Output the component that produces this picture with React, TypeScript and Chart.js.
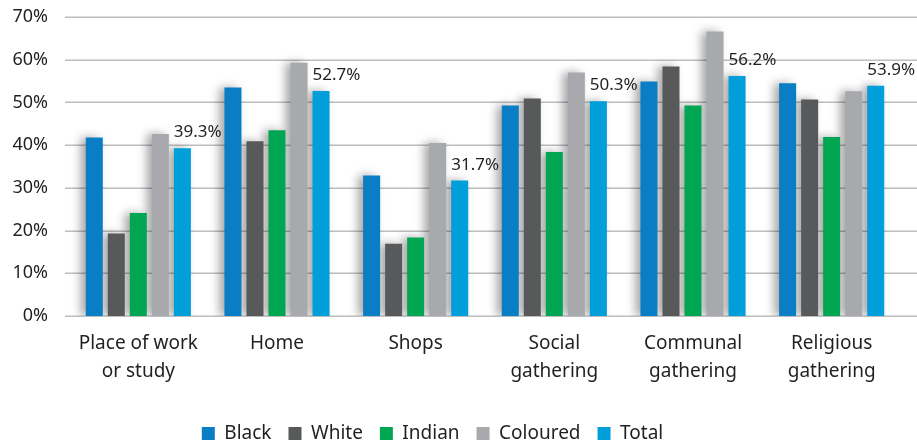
import React, { useEffect, useRef } from "react";
import { Chart, registerables } from "chart.js";

Chart.register(...registerables);

const categories: string[][] = [
  ["Place of work", "or study"],
  ["Home"],
  ["Shops"],
  ["Social", "gathering"],
  ["Communal", "gathering"],
  ["Religious", "gathering"],
];
const seriesNames = ["Black", "White", "Indian", "Coloured", "Total"];
const black = [41.8, 53.5, 32.9, 49.3, 54.9, 54.5];
const white = [19.3, 40.9, 16.9, 50.9, 58.4, 50.7];
const indian = [24.1, 43.5, 18.4, 38.4, 49.3, 41.9];
const coloured = [42.6, 59.3, 40.5, 57.0, 66.6, 52.6];
const total = [39.3, 52.7, 31.7, 50.3, 56.2, 53.9];
const yTicks = [0, 10, 20, 30, 40, 50, 60, 70];

const colors = ["#0A7EC4", "#58595B", "#00A651", "#A7A9AC", "#009FDA"];
const FONT = "'Noto Sans', sans-serif";
const TEXT = "#231F20";

export default function App() {
  const ref = useRef<HTMLCanvasElement | null>(null);

  useEffect(() => {
    document.body.style.margin = "0";
    const canvas = ref.current;
    if (!canvas) return;
    const values = [black, white, indian, coloured, total];

    const gridPlugin = {
      id: "fullGrid",
      afterLayout(chart: any) {
        const lg = chart.legend;
        if (lg) {
          lg.left -= 18;
          lg.right -= 18;
        }
      },
      beforeDatasetsDraw(chart: any) {
        const { ctx, chartArea, scales } = chart;
        const y = scales.y;
        ctx.save();
        ctx.strokeStyle = "#BDBEC0";
        ctx.lineWidth = 1.5;
        y.ticks.forEach((t: any) => {
          const py = Math.round(y.getPixelForValue(t.value)) + 0.25;
          ctx.beginPath();
          ctx.moveTo(chartArea.left - 4, py);
          ctx.lineTo(chart.width, py);
          ctx.stroke();
        });
        ctx.restore();
        ctx.save();
        ctx.shadowColor = "rgba(0,0,0,0.35)";
        ctx.shadowBlur = 10;
        ctx.shadowOffsetX = -5;
        ctx.shadowOffsetY = 0;
      },
      afterDatasetsDraw(chart: any) {
        const { ctx } = chart;
        ctx.restore();
        const idx = seriesNames.indexOf("Total");
        const meta = chart.getDatasetMeta(idx);
        ctx.save();
        ctx.fillStyle = TEXT;
        ctx.font = `17px ${FONT}`;
        ctx.textAlign = "left";
        ctx.textBaseline = "bottom";
        meta.data.forEach((el: any, i: number) => {
          const v = values[idx][i];
          ctx.fillText(v.toFixed(1) + "%", el.x - el.width / 2, el.y - 7);
        });
        ctx.restore();
      },
    };

    const chart = new Chart(canvas, {
      type: "bar",
      data: {
        labels: categories,
        datasets: seriesNames.map((name, i) => ({
          label: name,
          data: values[i],
          backgroundColor: colors[i],
          borderWidth: 0,
          categoryPercentage: 0.794,
          barPercentage: 0.773,
        })),
      },
      options: {
        animation: false,
        responsive: false,
        maintainAspectRatio: false,
        layout: { padding: { top: 17, right: 16, left: 0, bottom: -10 } },
        plugins: {
          legend: {
            position: "bottom",
            labels: {
              color: TEXT,
              font: { family: FONT, size: 19 },
              boxWidth: 13,
              boxHeight: 13,
              padding: 17,
            },
          },
          tooltip: { enabled: false },
        },
        scales: {
          x: {
            grid: { display: false },
            border: { display: false },
            ticks: {
              color: TEXT,
              font: { family: FONT, size: 19, lineHeight: 1.5 },
              padding: 5,
              maxRotation: 0,
              autoSkip: false,
            },
            afterFit(scale: any) {
              scale.height = 91;
            },
          },
          y: {
            min: 0,
            max: 70,
            afterBuildTicks(scale: any) {
              scale.ticks = yTicks.map((v) => ({ value: v }));
            },
            grid: { display: false, drawTicks: true, tickLength: 21 },
            border: { display: false },
            ticks: {
              color: TEXT,
              font: { family: FONT, size: 18 },
              padding: 0,
              callback: (v: any) => v + "%",
            },
            afterFit(scale: any) {
              scale.width = 69;
            },
          },
        },
      },
      plugins: [gridPlugin],
    });
    return () => chart.destroy();
  }, []);

  return <canvas ref={ref} width={917} height={443} style={{ display: "block" }} />;
}
